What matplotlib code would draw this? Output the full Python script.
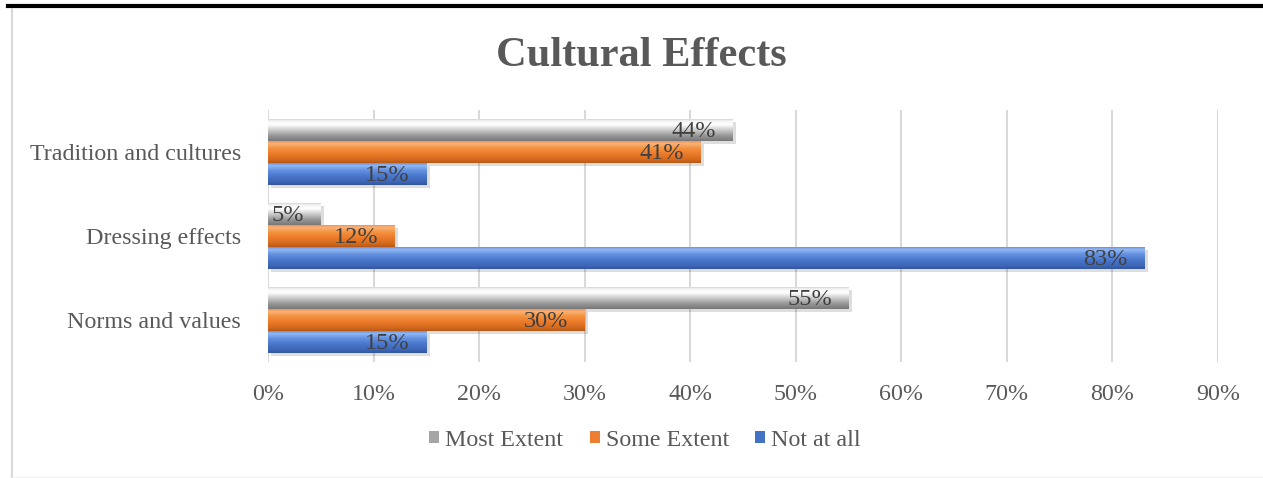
import numpy as np
import matplotlib.pyplot as plt
import matplotlib.patheffects as pe
from matplotlib.colors import to_rgb
from matplotlib.lines import Line2D
from matplotlib.patches import Patch

plt.rcParams['font.family'] = ['Liberation Serif', 'DejaVu Serif']

# Survey results (share of respondents)
categories = ['Norms and values', 'Dressing effects', 'Tradition and cultures']
most_extent = [0.55, 0.05, 0.44]
some_extent = [0.30, 0.12, 0.41]
not_at_all = [0.15, 0.83, 0.15]
series_names = ['Most Extent', 'Some Extent', 'Not at all']
x_ticks = [0, 0.1, 0.2, 0.3, 0.4, 0.5, 0.6, 0.7, 0.8, 0.9]

base_colors = ['#a5a5a5', '#ed7d31', '#4472c4']
# vertical shading stops (top -> bottom) giving the bevelled bar look
shades = [
    [(0, '#c4c4c4'), (0.12, '#f4f4f4'), (0.28, '#ffffff'), (0.5, '#d0d0d0'),
     (0.75, '#9a9a9a'), (1, '#787878')],
    [(0, '#ee8a45'), (0.15, '#f9b27a'), (0.35, '#f4923f'), (0.6, '#ec7a2a'),
     (0.85, '#d46a1e'), (1, '#b85816')],
    [(0, '#5785d6'), (0.15, '#93b9f4'), (0.35, '#6592e0'), (0.6, '#4a78cc'),
     (0.85, '#3d67b8'), (1, '#32579d')],
]


def gradient(stops, n=64):
    pos = np.linspace(0, 1, n)
    p = [s[0] for s in stops]
    cols = np.array([to_rgb(s[1]) for s in stops])
    img = np.stack([np.interp(pos, p, cols[:, k]) for k in range(3)], axis=-1)
    return img[:, None, :]


fig = plt.figure(figsize=(12.63, 4.78), dpi=100)
ax = fig.add_axes([268 / 1263, 1 - 362 / 478, 950 / 1263, 252 / 478])

y = np.arange(len(categories))
h = 0.262
offsets = [h, 0, -h]
values = [most_extent, some_extent, not_at_all]

for vals, off, col, shade in zip(values, offsets, base_colors, shades):
    bars = ax.barh(y + off, vals, height=h, color=col, zorder=3,
                   path_effects=[pe.SimplePatchShadow(offset=(2.5, -2.5), shadow_rgbFace='black', alpha=0.13),
                                 pe.Normal()])
    img = gradient(shade)
    for bar, v, yy in zip(bars, vals, y + off):
        im = ax.imshow(img, extent=(0, v, yy - h / 2, yy + h / 2), aspect='auto',
                       origin='upper', zorder=4, interpolation='bilinear')
        im.set_clip_path(bar)
        ax.annotate(f'{v * 100:.0f}%', (v, yy), xytext=(-12, -1), textcoords='offset points',
                    ha='right', va='center', fontsize=17.5, color='#404040', zorder=5)

ax.set_xlim(0, 0.9)
ax.set_ylim(-0.5, 2.5)
ax.set_xticks(x_ticks)
ax.set_xticklabels([f'{t * 100:.0f}%' for t in x_ticks])
ax.set_yticks(y)
ax.set_yticklabels(categories)
ax.tick_params(axis='x', length=0, pad=15.5, labelsize=17.3, labelcolor='#595959')
ax.tick_params(axis='y', length=0, pad=19.5, labelsize=17.3, labelcolor='#595959')
ax.grid(axis='x', color='#d9d9d9', linewidth=1.5, zorder=0)
ax.set_axisbelow(True)
for s in ax.spines.values():
    s.set_visible(False)

fig.text(641 / 1263, 1 - 56 / 478, 'Cultural Effects', ha='center', va='center',
         fontsize=30.5, fontweight='bold', color='#595959')

handles = [Patch(facecolor=c, edgecolor='none') for c in base_colors]
fig.legend(handles, series_names, loc='center', bbox_to_anchor=(645 / 1263, 1 - 440 / 478),
           ncol=3, frameon=False, fontsize=17.3, labelcolor='#595959',
           handlelength=0.42, handleheight=0.42, handletextpad=0.25, columnspacing=1.1)

# page frame lines around the chart
fig.add_artist(Line2D([8 / 1263, 1], [1 - 6 / 478] * 2, transform=fig.transFigure,
                      color='black', linewidth=3))
fig.add_artist(Line2D([12 / 1263] * 2, [0, 1 - 9 / 478], transform=fig.transFigure,
                      color='#d9d9d9', linewidth=1.5))
fig.add_artist(Line2D([12 / 1263, 1], [1.5 / 478] * 2, transform=fig.transFigure,
                      color='#f2f2f2', linewidth=1))

fig.savefig('out.png', dpi=100)
